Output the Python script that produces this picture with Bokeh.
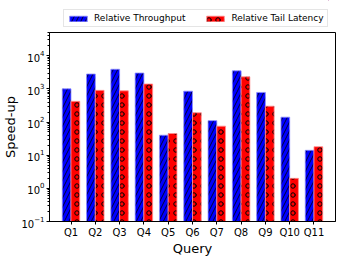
from bokeh.plotting import figure
from bokeh.models import ColumnDataSource, FactorRange, Range1d, Legend, LegendItem
from bokeh.layouts import column
from bokeh.transform import dodge
from bokeh.embed import file_html
from bokeh.resources import INLINE

queries = ["Q1", "Q2", "Q3", "Q4", "Q5", "Q6", "Q7", "Q8", "Q9", "Q10", "Q11"]
throughput = [1000, 2800, 3900, 3000, 40, 850, 110, 3500, 780, 140, 14]
tail_latency = [420, 900, 870, 1400, 45, 190, 75, 2300, 300, 2, 18]
series_names = ["Relative Throughput", "Relative Tail Latency"]

src = ColumnDataSource(dict(q=queries, t=throughput, l=tail_latency))

FONT = "DejaVu Sans"
blue_style = dict(fill_color="#0000ff", line_color="#9090ff", line_width=0.8,
                  hatch_pattern="right_diagonal_line", hatch_color="black", hatch_scale=9, hatch_weight=0.8)
red_style = dict(fill_color="#ff0000", line_color="#ff9090", line_width=0.8,
                 hatch_pattern="ring", hatch_color="black", hatch_scale=9, hatch_weight=1)

# main chart
p = figure(frame_width=286, frame_height=189, output_backend="svg", toolbar_location=None,
           x_range=FactorRange(*queries, range_padding=0.07),
           y_range=Range1d(0.1, 50000), y_axis_type="log",
           min_border_left=42, min_border_right=2, min_border_bottom=31, min_border_top=4)

bw = 0.36
p.vbar(x=dodge("q", -0.18, range=p.x_range), top="t", bottom=0.1, width=bw, source=src, **blue_style)
p.vbar(x=dodge("q", 0.18, range=p.x_range), top="l", bottom=0.1, width=bw, source=src, **red_style)

p.xgrid.visible = False
p.ygrid.visible = False
p.outline_line_color = "black"
p.outline_line_width = 1

for ax in (p.xaxis[0], p.yaxis[0]):
    ax.axis_line_color = "black"
    ax.major_label_text_font = FONT
    ax.major_label_text_font_size = "10px"
    ax.major_label_text_color = "black"
    ax.axis_label_text_font = FONT
    ax.axis_label_text_font_style = "normal"
    ax.axis_label_text_font_size = "13px"
    ax.axis_label_text_color = "black"
    ax.major_tick_in = 0
    ax.major_tick_out = 3
    ax.major_label_standoff = 2

p.xaxis.axis_label = "Query"
p.xaxis.axis_label_standoff = 0
p.yaxis.axis_label = "Speed-up"
p.yaxis.axis_label_standoff = 0
p.yaxis.minor_tick_out = 2
p.yaxis.minor_tick_in = 0

# legend strip above the chart (legend glyph renderers hold one point outside the visible range)
lg = figure(width=330, height=28, output_backend="svg", toolbar_location=None,
            x_range=Range1d(0, 1), y_range=Range1d(0, 1),
            x_axis_location=None, y_axis_location=None,
            min_border_left=0, min_border_right=0, min_border_top=0, min_border_bottom=0)
lg.outline_line_color = None
lg.xgrid.visible = False
lg.ygrid.visible = False
dummy = ColumnDataSource(dict(x=[5], top=[5]))
d1 = lg.vbar(x="x", top="top", bottom=4, width=0.1, source=dummy, **blue_style)
d2 = lg.vbar(x="x", top="top", bottom=4, width=0.1, source=dummy, **red_style)
legend = Legend(items=[LegendItem(label=series_names[0], renderers=[d1]),
                       LegendItem(label=series_names[1], renderers=[d2])],
                orientation="horizontal", location=(14, 1),
                label_text_font=FONT, label_text_font_size="9px", label_text_color="black",
                glyph_width=22, glyph_height=7, label_standoff=5, spacing=19,
                padding=3, margin=0, border_line_color="#cccccc", label_height=8)
lg.add_layout(legend, "center")

layout = column(lg, p, spacing=0)
open("out.html", "w").write(file_html(layout, INLINE))
